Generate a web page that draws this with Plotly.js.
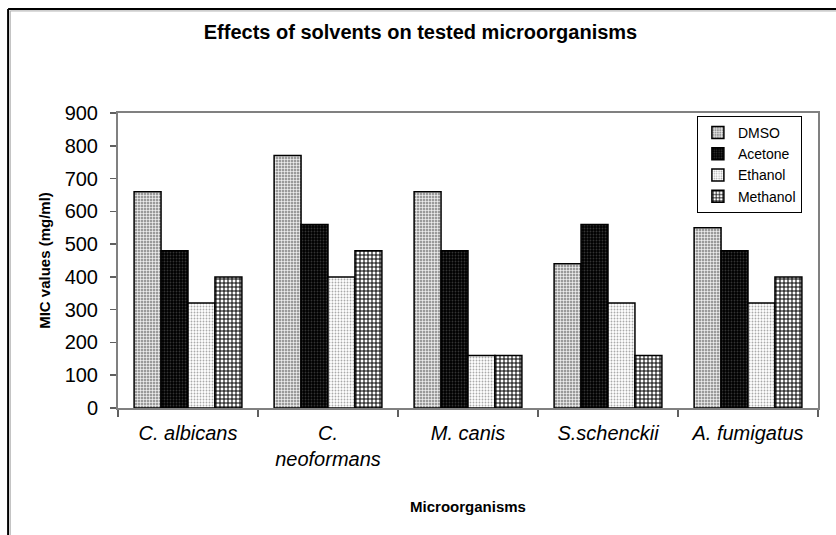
<!DOCTYPE html>
<html><head><meta charset="utf-8">
<script src="https://cdn.plot.ly/plotly-3.0.1.min.js"></script>
<style>html,body{margin:0;padding:0;background:#fff}#chart{width:836px;height:535px}</style>
</head><body><div id="chart"></div>
<script>
const categories = ["<i>C. albicans</i>", "<i>C.</i><br><i>neoformans</i>", "<i>M. canis</i>", "<i>S.schenckii</i>", "<i>A. fumigatus</i>"];
const seriesNames = ["DMSO", "Acetone", "Ethanol", "Methanol"];
const dmso = [660, 770, 660, 440, 550];
const acetone = [480, 560, 480, 560, 480];
const ethanol = [320, 400, 160, 320, 320];
const methanol = [400, 480, 160, 160, 400];
const yTicks = [0, 100, 200, 300, 400, 500, 600, 700, 800, 900];

const FAM = "'Liberation Sans', Arial, sans-serif";
const styles = [
  {color: "#b0b0b0", pattern: {shape: "+", fgcolor: "#ffffff", bgcolor: "#9a9a9a", size: 3, solidity: 0.35}},
  {color: "#000000", pattern: {shape: ".", fgcolor: "#333333", bgcolor: "#000000", size: 3, solidity: 0.3}},
  {color: "#e8e8e8", pattern: {shape: ".", fgcolor: "#aaaaaa", bgcolor: "#ffffff", size: 3, solidity: 0.3}},
  {color: "#555555", pattern: {shape: "+", fgcolor: "#000000", bgcolor: "#ffffff", size: 4, solidity: 0.45}}
];
const values = [dmso, acetone, ethanol, methanol];
const data = values.map((v, i) => ({
  type: "bar", name: seriesNames[i], x: categories, y: v,
  marker: {color: styles[i].color, pattern: styles[i].pattern, line: {color: "#000", width: 1.5}}
}));

const axFont = {family: FAM, size: 20, color: "#000"};
const layout = {
  width: 836, height: 535,
  margin: {l: 118, r: 18, t: 113, b: 127},
  paper_bgcolor: "#fff", plot_bgcolor: "#fff",
  font: {family: FAM, color: "#000"},
  title: {text: "<b>Effects of solvents on tested microorganisms</b>", x: 0.503, xref: "container", xanchor: "center",
          y: 0.94, yanchor: "middle", font: {size: 20, family: FAM, color: "#000"}},
  barmode: "group", bargap: 0.23, bargroupgap: 0,
  showlegend: true,
  legend: {x: 0.827, y: 0.99, xanchor: "left", yanchor: "top", bordercolor: "#000", borderwidth: 1, bgcolor: "#fff",
           font: {size: 14, family: FAM, color: "#000"}, tracegroupgap: 0, itemwidth: 30},
  xaxis: {
    tickfont: axFont, showline: true, linecolor: "#808080", linewidth: 2, mirror: true,
    ticks: "outside", tickson: "boundaries", ticklen: 7, tickcolor: "#606060", tickwidth: 1.5,
    ticklabelstandoff: 6, showgrid: false,
    title: {text: "<b>Microorganisms</b>", standoff: 32, font: {size: 15, family: FAM, color: "#000"}}
  },
  yaxis: {
    range: [0, 900], tickvals: yTicks, ticktext: yTicks.map(String), tickfont: axFont,
    showline: true, linecolor: "#808080", linewidth: 2, mirror: true,
    ticks: "outside", ticklen: 6, tickcolor: "#606060", tickwidth: 1.5, ticklabelstandoff: 8,
    showgrid: false, zeroline: false,
    title: {text: "<b>MIC values (mg/ml)</b>", standoff: 10, font: {size: 15, family: FAM, color: "#000"}}
  },
  shapes: [
    {type: "line", xref: "paper", yref: "paper", x0: -0.157, x1: -0.157, y0: 1.3525, y1: -0.44, line: {color: "#000", width: 2}},
    {type: "line", xref: "paper", yref: "paper", x0: -0.157, x1: 1.03, y0: 1.3525, y1: 1.3525, line: {color: "#000", width: 2}},
    {type: "line", xref: "paper", yref: "paper", x0: -0.154, x1: 1.03, y0: 1.346, y1: 1.346, line: {color: "#aaa", width: 1}},
    {type: "line", xref: "paper", yref: "paper", x0: -0.154, x1: -0.154, y0: 1.346, y1: -0.44, line: {color: "#aaa", width: 1}}
  ]
};
Plotly.newPlot("chart", data, layout, {displayModeBar: false, staticPlot: true});
</script></body></html>
